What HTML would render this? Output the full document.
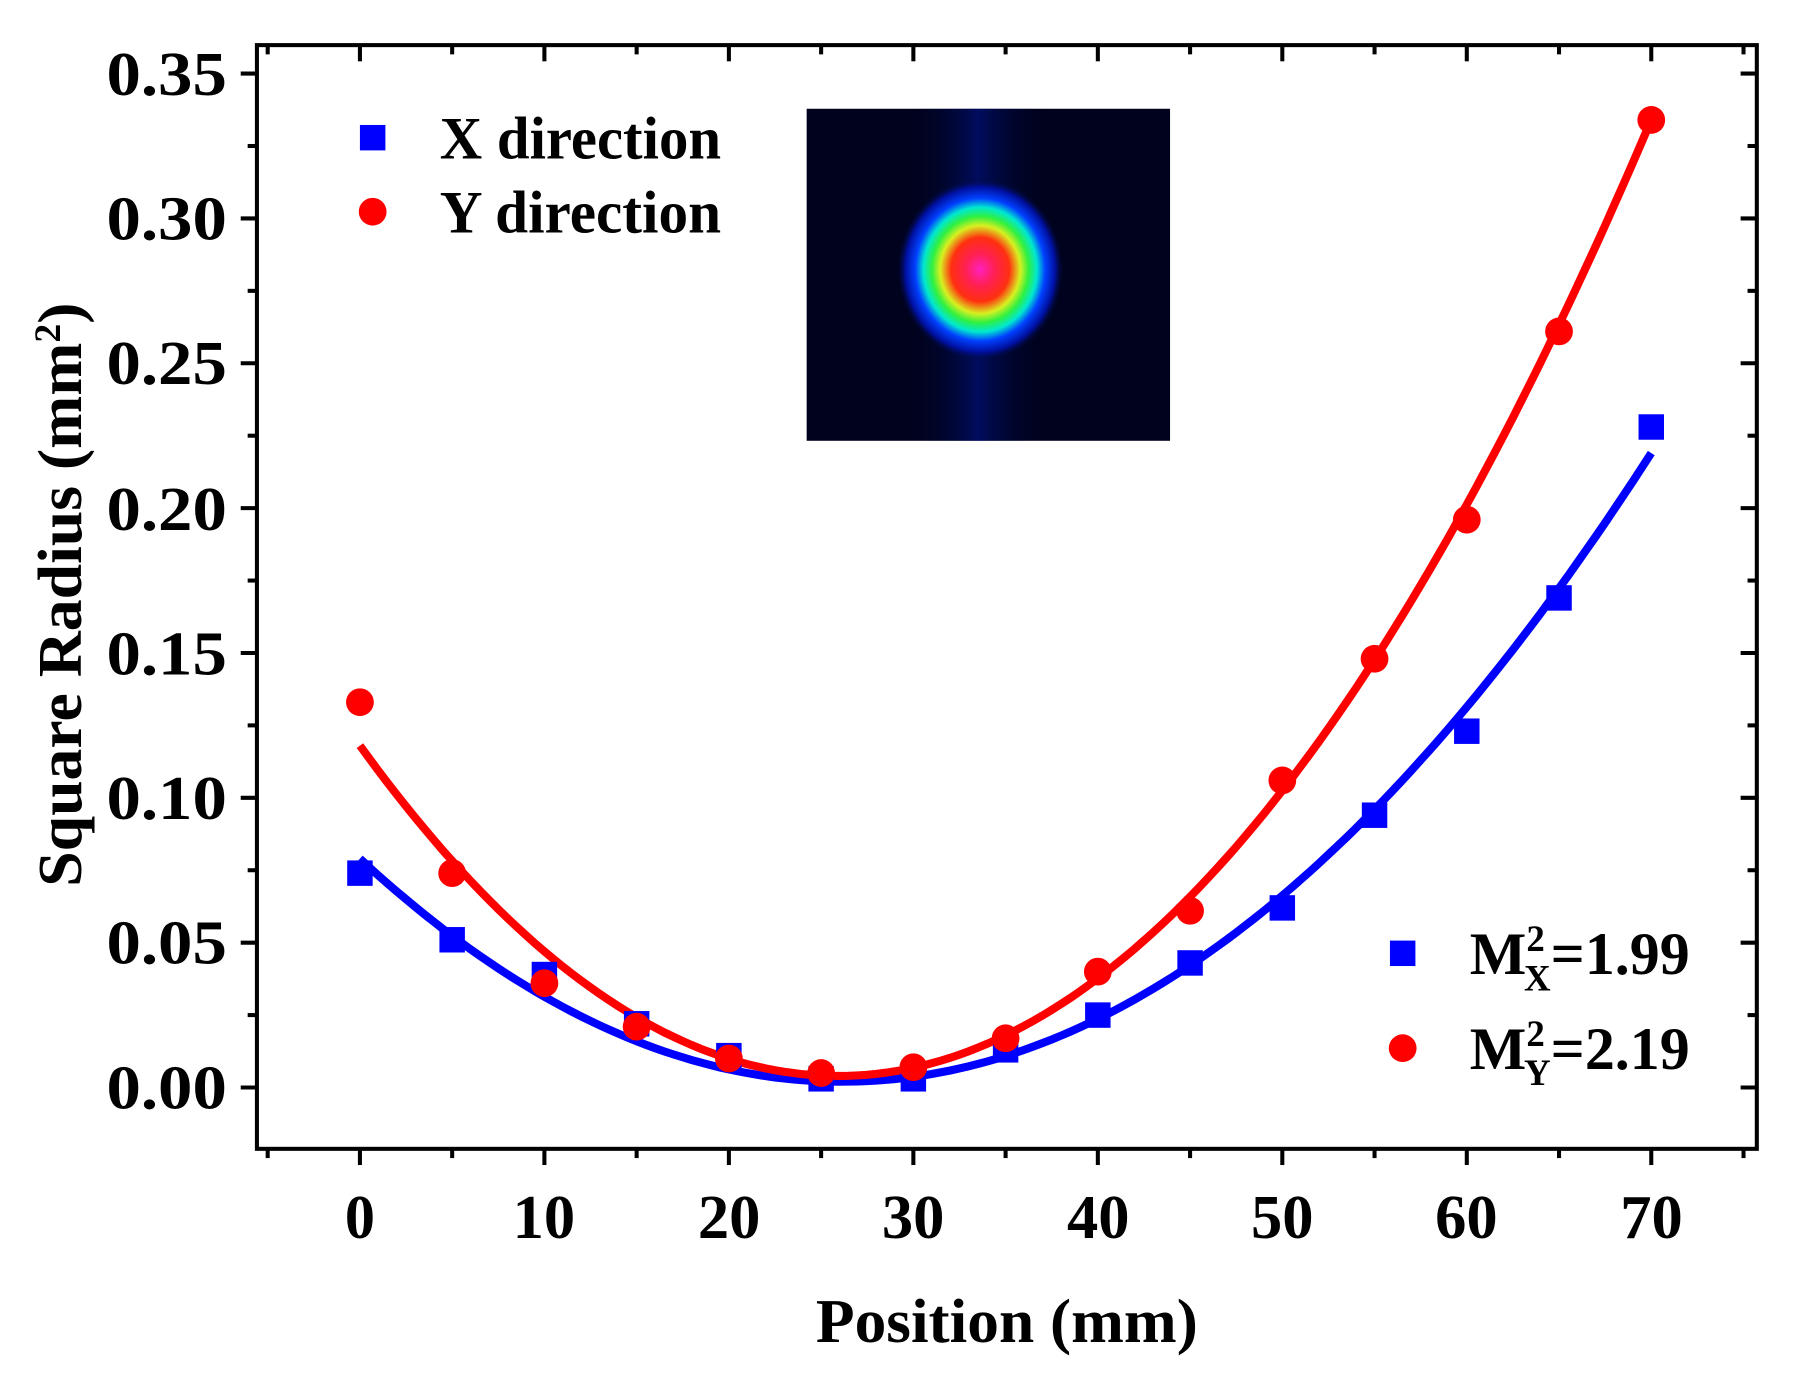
<!DOCTYPE html>
<html><head><meta charset="utf-8"><style>
html,body{margin:0;padding:0;background:#fff}
svg{display:block}
text{font-family:"Liberation Serif","Times New Roman",serif;font-weight:bold;fill:#000}
</style></head><body>
<svg id="s" width="1817" height="1386" viewBox="0 0 1570 1198" preserveAspectRatio="none" xmlns="http://www.w3.org/2000/svg">
<defs>
<radialGradient id="beam" cx="847" cy="233" r="72" gradientUnits="userSpaceOnUse" gradientTransform="translate(847 233) scale(1 1.1) translate(-847 -233)">
<stop offset="0" stop-color="#ff20c0"/>
<stop offset="0.18" stop-color="#ff2050"/>
<stop offset="0.35" stop-color="#ff3010"/>
<stop offset="0.48" stop-color="#d8f020"/>
<stop offset="0.58" stop-color="#30f040"/>
<stop offset="0.68" stop-color="#00e8d0"/>
<stop offset="0.78" stop-color="#0040ff"/>
<stop offset="0.9" stop-color="#0010a0"/>
<stop offset="1" stop-color="#000830" stop-opacity="0"/>
</radialGradient>
<linearGradient id="vband" x1="0" x2="1" y1="0" y2="0">
<stop offset="0" stop-color="#000830" stop-opacity="0"/>
<stop offset="0.5" stop-color="#0018a0" stop-opacity="0.5"/>
<stop offset="1" stop-color="#000830" stop-opacity="0"/>
</linearGradient>
</defs>
<rect x="697" y="94" width="314" height="287" fill="#00021e"/>
<rect x="790" y="94" width="110" height="287" fill="url(#vband)"/>
<rect x="697" y="94" width="314" height="287" fill="url(#beam)"/>
<g id="g"></g>
<rect x="222" y="39" width="1296" height="954" fill="none" stroke="#000" stroke-width="3.5"/>
<g font-size="54" text-anchor="end">
<text x="196" y="82" textLength="104" lengthAdjust="spacingAndGlyphs">0.35</text>
<text x="196" y="207" textLength="104" lengthAdjust="spacingAndGlyphs">0.30</text>
<text x="196" y="332" textLength="104" lengthAdjust="spacingAndGlyphs">0.25</text>
<text x="196" y="458" textLength="104" lengthAdjust="spacingAndGlyphs">0.20</text>
<text x="196" y="583" textLength="104" lengthAdjust="spacingAndGlyphs">0.15</text>
<text x="196" y="708" textLength="104" lengthAdjust="spacingAndGlyphs">0.10</text>
<text x="196" y="833" textLength="104" lengthAdjust="spacingAndGlyphs">0.05</text>
<text x="196" y="958" textLength="104" lengthAdjust="spacingAndGlyphs">0.00</text>
</g>
<g font-size="54" text-anchor="middle">
<text x="311" y="1070" textLength="26" lengthAdjust="spacingAndGlyphs">0</text>
<text x="470" y="1070" textLength="54" lengthAdjust="spacingAndGlyphs">10</text>
<text x="630" y="1070" textLength="54" lengthAdjust="spacingAndGlyphs">20</text>
<text x="789" y="1070" textLength="54" lengthAdjust="spacingAndGlyphs">30</text>
<text x="949" y="1070" textLength="54" lengthAdjust="spacingAndGlyphs">40</text>
<text x="1108" y="1070" textLength="54" lengthAdjust="spacingAndGlyphs">50</text>
<text x="1267" y="1070" textLength="54" lengthAdjust="spacingAndGlyphs">60</text>
<text x="1427" y="1070" textLength="54" lengthAdjust="spacingAndGlyphs">70</text>
</g>
<text x="870" y="1160" font-size="54" text-anchor="middle" textLength="330" lengthAdjust="spacingAndGlyphs">Position (mm)</text>
<text transform="translate(70 514) rotate(-90)" font-size="54" text-anchor="middle" textLength="505" lengthAdjust="spacingAndGlyphs">Square Radius (mm<tspan dy="-18" font-size="32">2</tspan><tspan dy="18">)</tspan></text>
<rect x="311" y="108" width="22" height="22" fill="#0000ff"/>
<circle cx="322" cy="183" r="12" fill="#ff0000"/>
<text x="380" y="137" font-size="52" textLength="243" lengthAdjust="spacingAndGlyphs">X direction</text>
<text x="380" y="201" font-size="52" textLength="243" lengthAdjust="spacingAndGlyphs">Y direction</text>
<rect x="1201" y="813" width="22" height="22" fill="#0000ff"/>
<circle cx="1212" cy="906" r="12" fill="#ff0000"/>
<text x="1270" y="842" font-size="52" textLength="190" lengthAdjust="spacingAndGlyphs">M<tspan font-size="32" dy="-20">2</tspan><tspan font-size="32" dx="-18" dy="34">X</tspan><tspan font-size="52" dy="-14">=1.99</tspan></text>
<text x="1270" y="924" font-size="52" textLength="190" lengthAdjust="spacingAndGlyphs">M<tspan font-size="32" dy="-20">2</tspan><tspan font-size="32" dx="-18" dy="34">Y</tspan><tspan font-size="52" dy="-14">=2.19</tspan></text>
</svg>
<script>
var NS="http://www.w3.org/2000/svg",g=document.getElementById("g");
function el(t,a){var e=document.createElementNS(NS,t);for(var k in a)e.setAttribute(k,a[k]);g.appendChild(e);return e;}
function X(x){return 311+15.94*x}
function Y(v){return 940-2504*v}
for(var i=1;i<=14;i++){var v=i*0.025,y=Y(v),maj=i%2==0;
 el("line",{x1:222,x2:222-(maj?14:8),y1:y,y2:y,stroke:"#000","stroke-width":3.5});
 el("line",{x1:1518,x2:1518-(maj?14:8),y1:y,y2:y,stroke:"#000","stroke-width":3.5});}
el("line",{x1:222,x2:208,y1:Y(0),y2:Y(0),stroke:"#000","stroke-width":3.5});
el("line",{x1:1518,x2:1504,y1:Y(0),y2:Y(0),stroke:"#000","stroke-width":3.5});
for(var x=-5;x<=75;x+=5){var px=X(x),maj=x%10==0;
 el("line",{x1:px,x2:px,y1:993,y2:993+(maj?14:8),stroke:"#000","stroke-width":3.5});
 el("line",{x1:px,x2:px,y1:39,y2:39+(maj?14:8),stroke:"#000","stroke-width":3.5});}
function curve(c,b,a,col){var d="";for(var x=0;x<=70;x+=0.5){var v=c+b*x+a*x*x;d+=(x?"L":"M")+X(x).toFixed(1)+" "+Y(v).toFixed(1);}
 el("path",{d:d,fill:"none",stroke:col,"stroke-width":7});}
curve(0.079,-0.005893,1.1276e-4,"#0000ff");
curve(0.118,-0.0088,1.698e-4,"#ff0000");
var bx=[0.074,0.051,0.039,0.022,0.011,0.003,0.003,0.013,0.025,0.043,0.062,0.094,0.123,0.169,0.228];
var ry=[0.133,0.074,0.036,0.021,0.010,0.005,0.007,0.017,0.040,0.061,0.106,0.148,0.196,0.261,0.334];
for(var i=0;i<15;i++){el("rect",{x:X(i*5)-11,y:Y(bx[i])-11,width:22,height:22,fill:"#0000ff"});}
for(var i=0;i<15;i++){el("circle",{cx:X(i*5),cy:Y(ry[i]),r:12,fill:"#ff0000"});}
</script>
</body></html>
